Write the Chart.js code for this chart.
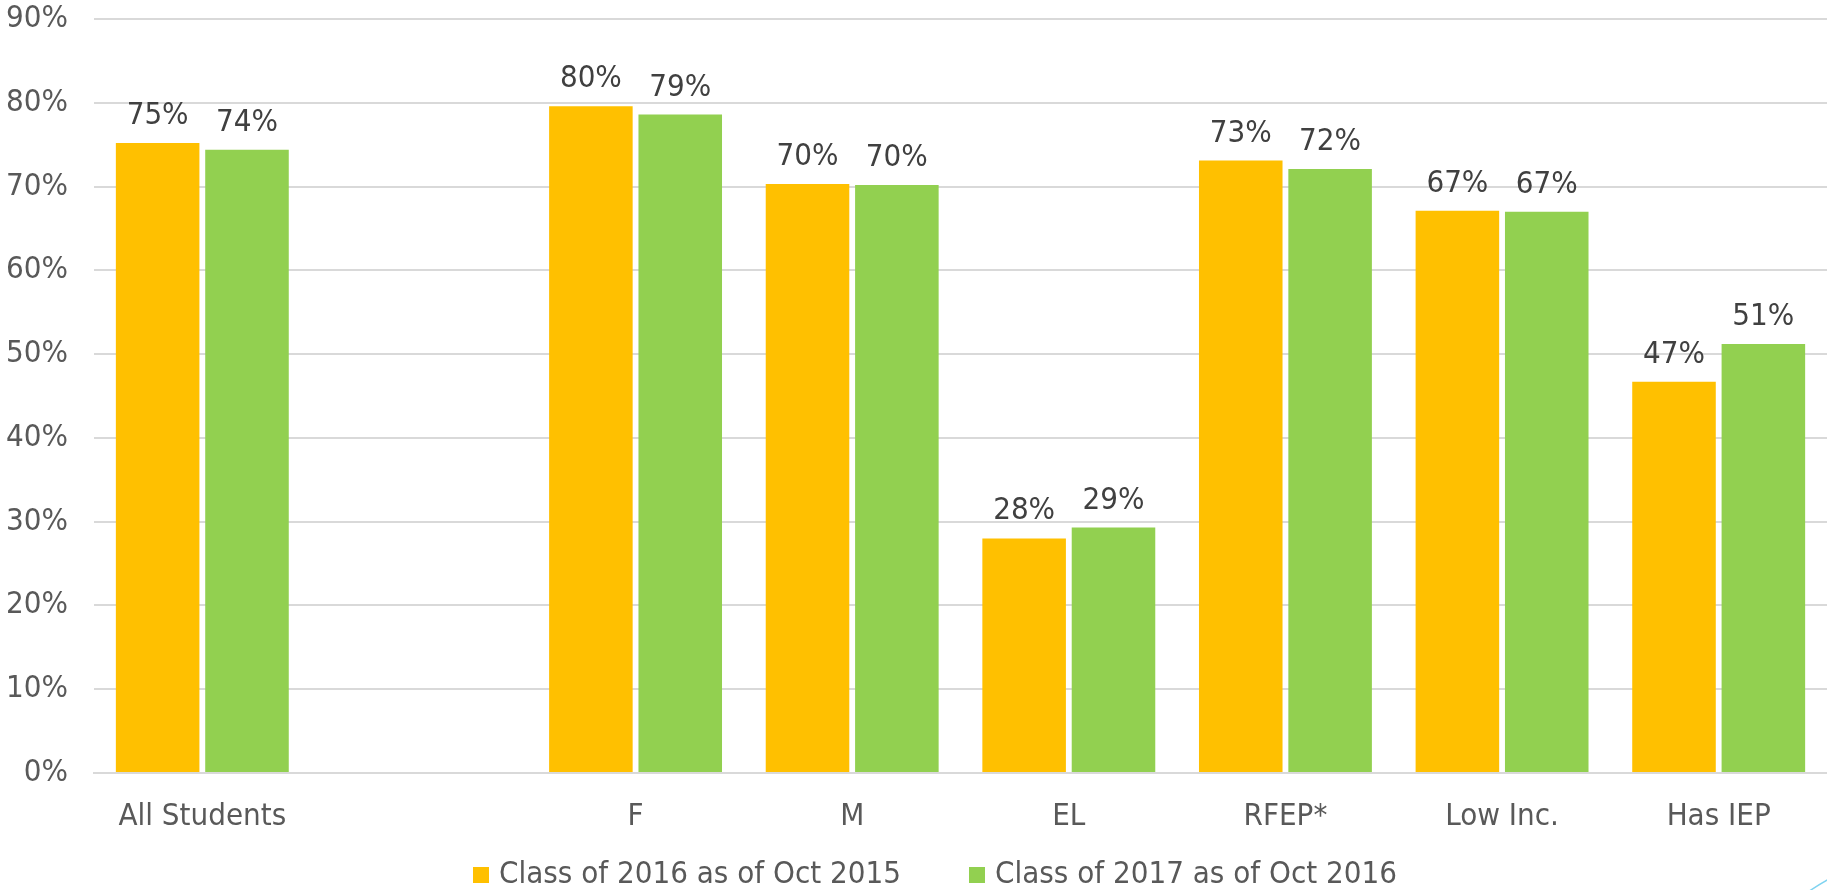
<!DOCTYPE html>
<html>
<head>
<meta charset="utf-8">
<script src="https://cdn.jsdelivr.net/npm/chart.js@4.4.1/dist/chart.umd.min.js"></script>
<style>
  html, body { margin: 0; padding: 0; background: #fff; }
  #wrap { width: 1827px; height: 890px; position: relative; }
</style>
</head>
<body>
<div id="wrap"><canvas id="gradChart"></canvas></div>
<script>
// categories (blank slot between All Students and F, as in the original)
const groups = ['All Students', '', 'F', 'M', 'EL', 'RFEP*', 'Low Inc.', 'Has IEP'];
const seriesNames = ['Class of 2016 as of Oct 2015', 'Class of 2017 as of Oct 2016'];
const class2016 = [75.2, null, 79.6, 70.3, 28.0, 73.1, 67.1, 46.7];
const class2017 = [74.4, null, 78.6, 70.2, 29.3, 72.1, 67.0, 51.2];
const yTicks = [0, 10, 20, 30, 40, 50, 60, 70, 80, 90];

const FONT = '"DejaVu Sans Condensed", "DejaVu Sans", sans-serif';
const FSIZE = 31;

// value labels above the bars
const barLabels = {
    id: 'barLabels',
    afterDatasetsDraw(chart) {
        const ctx = chart.ctx;
        ctx.save();
        ctx.font = FSIZE + 'px ' + FONT;
        ctx.fillStyle = '#404040';
        ctx.textAlign = 'center';
        ctx.textBaseline = 'alphabetic';
        chart.data.datasets.forEach((ds, i) => {
            chart.getDatasetMeta(i).data.forEach((bar, j) => {
                const v = ds.data[j];
                if (v == null) return;
                ctx.fillText(Math.round(v) + '%', bar.x, bar.y - 19);
            });
        });
        ctx.restore();
    }
};

// legend drawn at the bottom with wide spacing between items
const bottomLegend = {
    id: 'bottomLegend',
    afterDraw(chart) {
        const ctx = chart.ctx;
        const box = 16, gapText = 10, gapItem = 68;
        ctx.save();
        ctx.font = FSIZE + 'px ' + FONT;
        const items = chart.data.datasets.map(ds => ({
            text: ds.label, color: ds.backgroundColor, w: ctx.measureText(ds.label).width
        }));
        let total = 0;
        items.forEach((it, i) => { total += box + gapText + it.w + (i ? gapItem : 0); });
        let x = 935 - total / 2;
        const y = 875;
        ctx.textBaseline = 'middle';
        ctx.textAlign = 'left';
        items.forEach((it, i) => {
            if (i) x += gapItem;
            ctx.fillStyle = it.color;
            ctx.fillRect(x, y - box / 2, box, box);
            x += box + gapText;
            ctx.fillStyle = '#595959';
            ctx.fillText(it.text, x, y);
            x += it.w;
        });
        // small decorative stroke in the corner
        ctx.strokeStyle = '#7fd3f0';
        ctx.lineWidth = 1.5;
        ctx.beginPath();
        ctx.moveTo(1808, 892);
        ctx.quadraticCurveTo(1818, 885, 1829, 879);
        ctx.stroke();
        ctx.restore();
    }
};

const ctx = document.getElementById('gradChart').getContext('2d');
const gradChart = new Chart(ctx, {
    type: 'bar',
    data: {
        labels: groups,
        datasets: [{
            label: seriesNames[0],
            data: class2016,
            backgroundColor: '#FFC000',
            categoryPercentage: 0.825,
            barPercentage: 0.935
        }, {
            label: seriesNames[1],
            data: class2017,
            backgroundColor: '#92D050',
            categoryPercentage: 0.825,
            barPercentage: 0.935
        }]
    },
    options: {
        responsive: true,
        maintainAspectRatio: false,
        animation: false,
        layout: {
            padding: { top: 19, right: 0, bottom: 0, left: 0 }
        },
        scales: {
            x: {
                grid: { display: false, drawTicks: false },
                border: { display: true, color: '#d9d9d9', width: 2 },
                ticks: {
                    color: '#595959',
                    font: { family: FONT, size: FSIZE },
                    padding: 25,
                    maxRotation: 0,
                    autoSkip: false
                },
                afterFit(scale) { scale.height = 117; }
            },
            y: {
                min: 0,
                max: 90,
                afterBuildTicks(scale) { scale.ticks = yTicks.map(v => ({ value: v })); },
                grid: { color: '#d9d9d9', lineWidth: 2, drawTicks: false },
                border: { display: false },
                ticks: {
                    color: '#595959',
                    font: { family: FONT, size: FSIZE },
                    padding: 26,
                    callback: v => v + '%'
                },
                afterFit(scale) {
                    scale.width = 94;
                    scale.paddingTop = 0;
                    scale.paddingBottom = 0;
                }
            }
        },
        plugins: {
            legend: { display: false },
            tooltip: { enabled: false },
            title: { display: false }
        }
    },
    plugins: [barLabels, bottomLegend]
});
</script>
</body>
</html>
